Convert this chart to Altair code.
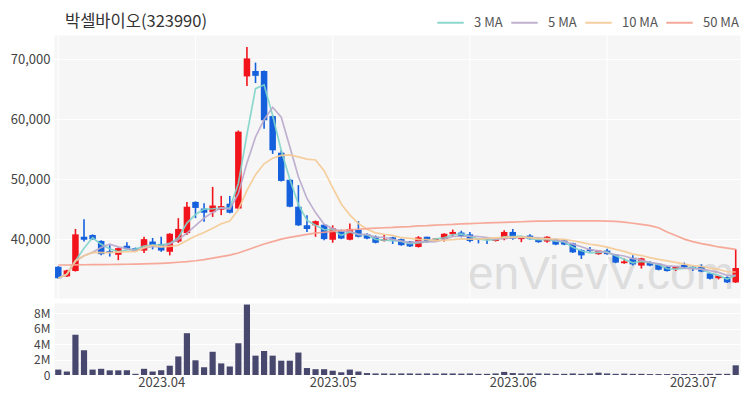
import altair as alt
import pandas as pd

title_text = "박셀바이오(323990)"

opens = [35400, 33800, 34700, 40400, 40700, 39700, 38000, 37400, 38900, 38500,
         38100, 39600, 39200, 37900, 39600, 41000, 46200, 45100, 44500, 44900,
         45900, 45100, 67100, 68000, 68000, 60500, 54400, 49900, 45400, 42300,
         42300, 42400, 39900, 41400, 39900, 41600, 40800, 40400, 39700, 40300,
         40000, 39600, 38700, 40400, 39800, 40000, 40800, 41100, 40800, 40100,
         40100, 39700, 40000, 41200, 40000, 40600, 39900, 39600, 40000, 39800,
         39300, 38200, 38300, 37500, 38100, 37400, 36000, 36800, 35600, 36200,
         35900, 35400, 35000, 35700, 35400, 35400, 34300, 33500, 33700, 32800]
highs = [35500, 34900, 41700, 43300, 40800, 39800, 39000, 38600, 39500, 38600,
         40400, 40200, 40400, 41000, 43500, 46200, 46300, 46000, 48700, 47200,
         47200, 58100, 72000, 69400, 68100, 60600, 54800, 50000, 49000, 44000,
         43100, 42500, 42300, 41600, 42600, 43000, 41000, 40600, 40700, 40400,
         40100, 39700, 40500, 40400, 40200, 41000, 41600, 41400, 41200, 40200,
         40200, 40100, 41500, 41700, 40300, 40800, 40000, 40500, 40100, 39900,
         39400, 38300, 38700, 38200, 38400, 37500, 36800, 37300, 36900, 36300,
         36000, 35500, 35400, 36100, 35500, 35800, 34400, 33900, 33800, 38300]
lows = [33400, 33700, 34600, 39600, 39900, 37300, 37100, 36500, 38300, 38000,
        37700, 38300, 37900, 37300, 39400, 40700, 43500, 42900, 43700, 44000,
        44300, 45000, 65500, 66000, 58400, 54200, 49600, 45300, 42200, 41200,
        40400, 39800, 39400, 40000, 39800, 40300, 40000, 39300, 39600, 39200,
        38900, 38700, 38600, 39400, 39700, 39600, 40400, 40300, 39500, 39300,
        39200, 39600, 39800, 39900, 39500, 39900, 39400, 39400, 39000, 39000,
        37700, 36700, 37900, 37400, 37400, 36000, 35900, 35600, 35100, 35500,
        34800, 34600, 34700, 35100, 34700, 34500, 33300, 33300, 32700, 32700]
closes = [33500, 34800, 40800, 39900, 40000, 37500, 37700, 38500, 38400, 38100,
          40000, 38900, 38100, 40900, 41700, 45400, 45200, 44400, 45600, 45500,
          44400, 57900, 70100, 67200, 59800, 54800, 49700, 45400, 42300, 41700,
          43000, 40000, 41800, 40100, 41700, 40400, 40100, 39400, 40000, 39900,
          39000, 38800, 40300, 39700, 40100, 40900, 41200, 40500, 39700, 39900,
          39900, 40000, 41200, 40100, 40200, 40000, 39500, 40400, 39100, 39100,
          37800, 37300, 38000, 38100, 37500, 36100, 36300, 35800, 36800, 35600,
          34900, 34700, 35400, 35300, 35100, 34600, 33400, 33900, 32800, 35200]
volumes_m = [0.7, 0.45, 5.2, 3.2, 0.7, 0.8, 0.6, 0.6, 0.6, 0.15,
             0.8, 0.45, 0.6, 1.2, 2.4, 5.4, 1.9, 1.0, 3.0, 1.5,
             1.1, 4.1, 9.1, 2.5, 3.1, 2.5, 1.85, 1.85, 2.9, 0.9,
             0.75, 0.75, 0.55, 0.35, 0.7, 0.45, 0.25, 0.2, 0.2, 0.18,
             0.2, 0.2, 0.18, 0.2, 0.18, 0.2, 0.2, 0.18, 0.2, 0.15,
             0.15, 0.2, 0.4, 0.25, 0.2, 0.2, 0.2, 0.18, 0.15, 0.15,
             0.2, 0.15, 0.2, 0.3, 0.2, 0.15, 0.18, 0.15, 0.15, 0.12,
             0.12, 0.12, 0.12, 0.12, 0.12, 0.12, 0.15, 0.15, 0.15, 1.25]
ma50 = [35700, 35700, 35720, 35740, 35750, 35760, 35780, 35800, 35820, 35850,
        35880, 35920, 35980, 36050, 36150, 36250, 36400, 36600, 36850, 37100,
        37350, 37700, 38200, 38700, 39200, 39600, 40000, 40300, 40550, 40800,
        41000, 41150, 41300, 41450, 41550, 41650, 41750, 41850, 41900, 41950,
        42050, 42100, 42200, 42250, 42350, 42400, 42450, 42550, 42600, 42650,
        42700, 42750, 42800, 42850, 42900, 42950, 43000, 43000, 43050, 43050,
        43050, 43050, 43050, 43050, 43000, 42950, 42850, 42650, 42450, 42250,
        41900, 41200, 40600, 40000, 39600, 39250, 39000, 38700, 38500, 38300]

tick_idx = [12, 32, 53, 74]
tick_labels = ["2023.04", "2023.05", "2023.06", "2023.07"]
grid_idx = [0, 16, 32, 48, 64]
series_names = ["3 MA", "5 MA", "10 MA", "50 MA"]
series_colors = ["#80d4ca", "#b9a9cb", "#f5ca93", "#f6a18f"]
up_color = "#f2141c"
down_color = "#1560dd"
vol_color = "#48486f"
watermark = "enVievV.com"

n = len(closes)
df = pd.DataFrame({"i": list(range(n)), "open": opens, "high": highs,
                   "low": lows, "close": closes,
                   "vol": [v * 1e6 for v in volumes_m]})

cl = pd.Series(closes)
ma_frames = []
for name, w in zip(series_names[:3], [3, 5, 10]):
    vals = cl.rolling(w, min_periods=1).mean()
    ma_frames.append(pd.DataFrame({"i": list(range(n)), "value": vals, "series": name}))
ma_frames.append(pd.DataFrame({"i": list(range(n)), "value": ma50, "series": "50 MA"}))
ma_df = pd.concat(ma_frames, ignore_index=True)

xdom = [-0.5, n - 0.5]
font = "Noto Sans CJK KR"

xs_main = alt.Scale(domain=xdom, nice=False, zero=False)
ys_main = alt.Scale(domain=[30200, 74000], nice=False, zero=False)

y_axis_main = alt.Axis(values=[40000, 50000, 60000, 70000],
                       labelExpr="format(datum.value, ',')", title=None,
                       grid=True, ticks=False, domain=False, labelPadding=4)

base = alt.Chart(df)

vgrid = alt.Chart(pd.DataFrame({"g": grid_idx})).mark_rule(
    color="#ffffff", strokeWidth=1
).encode(x=alt.X("g:Q", scale=xs_main, axis=None))

wm = alt.Chart(pd.DataFrame({"t": [watermark]})).mark_text(
    font="Liberation Sans", fontSize=46, color="#c9c9c9", opacity=0.55,
    align="center", baseline="alphabetic"
).encode(x=alt.value(547), y=alt.value(254), text="t:N")

wicks = base.mark_rule(strokeWidth=1.6).encode(
    x=alt.X("i:Q", scale=xs_main, axis=None),
    y=alt.Y("low:Q", scale=ys_main, axis=y_axis_main),
    y2="high:Q",
    color=alt.condition("datum.close >= datum.open", alt.value(up_color), alt.value(down_color)),
)

bodies = base.transform_calculate(
    xa="datum.i - 0.38", xb="datum.i + 0.38",
    top="max(datum.open, datum.close)", bot="min(datum.open, datum.close)"
).mark_bar().encode(
    x=alt.X("xa:Q", scale=xs_main, axis=None),
    x2="xb:Q",
    y=alt.Y("bot:Q", scale=ys_main, axis=y_axis_main),
    y2="top:Q",
    color=alt.condition("datum.close >= datum.open", alt.value(up_color), alt.value(down_color)),
)

lines = alt.Chart(ma_df).mark_line(strokeWidth=1.7, opacity=0.9).encode(
    x=alt.X("i:Q", scale=xs_main, axis=None),
    y=alt.Y("value:Q", scale=ys_main, axis=y_axis_main),
    color=alt.Color("series:N",
                    scale=alt.Scale(domain=series_names, range=series_colors),
                    sort=series_names,
                    legend=alt.Legend(orient="none", legendX=382, legendY=-27,
                                      direction="horizontal", title=None,
                                      symbolType="stroke", symbolSize=700,
                                      symbolStrokeWidth=2, labelFontSize=13,
                                      labelColor="#555", labelFont=font,
                                      columnPadding=4, labelOffset=9)),
    detail="series:N",
)

main = alt.layer(vgrid, wm, bodies, wicks, lines).properties(
    width=686, height=263,
    title=alt.TitleParams(title_text, anchor="start", frame="group", fontSize=16.5,
                          font=font, fontWeight="normal", color="#333", offset=4, dx=11),
)

label_expr = " : ".join(
    [f"datum.value == {v} ? '{t}'" for v, t in zip(tick_idx, tick_labels)]) + " : ''"

vol = base.transform_calculate(
    xa="datum.i - 0.36", xb="datum.i + 0.36"
).mark_bar(color=vol_color).encode(
    x=alt.X("xa:Q", scale=alt.Scale(domain=xdom, nice=False, zero=False),
            axis=alt.Axis(values=tick_idx, labelExpr=label_expr, title=None,
                          grid=False, ticks=False, domain=False, labelPadding=1)),
    x2="xb:Q",
    y=alt.Y("vol:Q", scale=alt.Scale(domain=[0, 9.3e6], nice=False),
            axis=alt.Axis(values=[0, 2e6, 4e6, 6e6, 8e6], title=None, grid=True,
                          ticks=False, domain=False, labelPadding=4, labelFontSize=12,
                          labelExpr="datum.value == 0 ? '0' : (datum.value / 1000000) + 'M'")),
    y2=alt.datum(0),
).properties(width=686, height=72)

chart = alt.vconcat(main, vol, spacing=3).properties(
    padding={"left": 1, "top": 0, "right": 0, "bottom": 0}
).configure_view(
    fill="#f6f6f6", stroke="transparent"
).configure_axis(
    labelFont=font, labelFontSize=13, labelColor="#444", gridColor="#ffffff", gridWidth=1
)

chart.save("out.html", embed_options={"renderer": "svg", "actions": False})
